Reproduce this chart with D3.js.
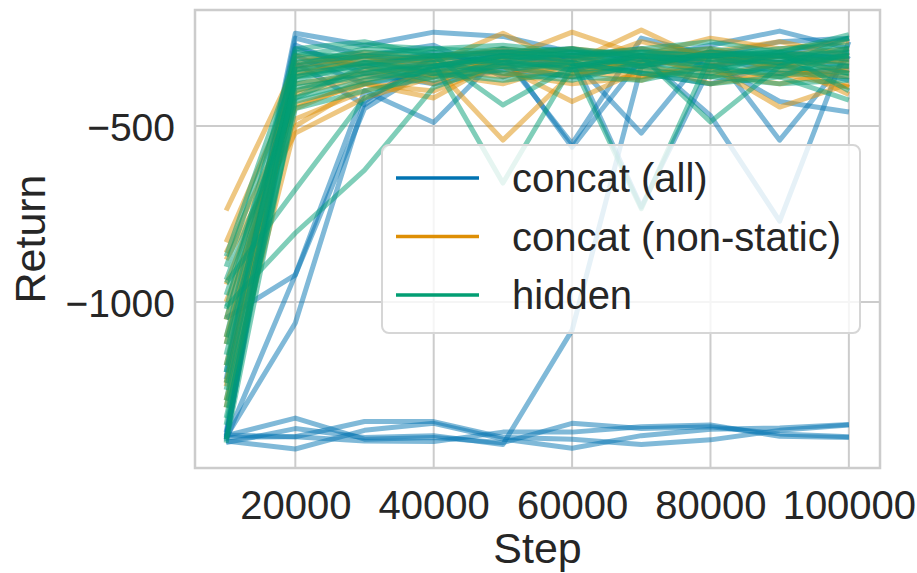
<!DOCTYPE html>
<html><head><meta charset="utf-8">
<script src="https://cdn.jsdelivr.net/npm/d3@7"></script>
<style>
html,body{margin:0;padding:0;background:#fff;}
text{font-family:"Liberation Sans",Arial,sans-serif;fill:#262626;}
</style></head>
<body>
<svg id="chart" width="917" height="573"></svg>
<script>
const steps = [10000,20000,30000,40000,50000,60000,70000,80000,90000,100000];
const seriesNames = ["concat (all)","concat (non-static)","hidden"];
const seriesColors = ["#0173b2","#de8f05","#029e73"];
const xTicks = [20000,40000,60000,80000,100000];
const yTicks = [-500,-1000];

const concatAllRuns = [
  [-1380,-1330,-1390,-1385,-1400,-1345,-1360,-1355,-1375,-1383],
  [-1385,-1383,-1340,-1340,-1385,-1390,-1405,-1392,-1365,-1350],
  [-1395,-1418,-1365,-1345,-1390,-1416,-1380,-1362,-1358,-1348],
  [-1378,-1383,-1395,-1397,-1370,-1370,-1355,-1350,-1382,-1385],
  [-1400,-1360,-1385,-1380,-1405,-1080,-330,-300,-320,-290],
  [-1384,-1060,-430,-300,-290,-560,-310,-290,-300,-330],
  [-1390,-923,-450,-330,-300,-310,-520,-280,-540,-300],
  [-1045,-923,-400,-490,-290,-280,-310,-320,-430,-460],
  [-1200,-236,-270,-233,-245,-290,-310,-270,-230,-280],
  [-1220,-250,-300,-330,-300,-550,-250,-300,-260,-250],
  [-1380,-280,-330,-290,-330,-300,-730,-330,-290,-310],
  [-1370,-300,-380,-350,-280,-340,-300,-470,-770,-260],
  [-1390,-320,-440,-300,-320,-300,-280,-330,-300,-250],
  [-1395,-270,-350,-380,-340,-360,-330,-300,-350,-340],
  [-1385,-330,-300,-270,-360,-300,-350,-380,-320,-370]
];
const concatNonStaticRuns = [
  [-740,-330,-300,-320,-236,-330,-260,-300,-330,-310],
  [-830,-380,-350,-330,-540,-350,-320,-290,-340,-360],
  [-880,-520,-420,-360,-330,-430,-340,-360,-320,-390],
  [-950,-440,-380,-420,-310,-233,-300,-280,-330,-300],
  [-1000,-480,-400,-350,-380,-320,-360,-330,-446,-380],
  [-1050,-350,-320,-300,-290,-320,-227,-320,-300,-280],
  [-1120,-300,-330,-380,-300,-280,-300,-250,-280,-260],
  [-1180,-410,-360,-320,-350,-380,-360,-330,-300,-320],
  [-1230,-360,-300,-350,-300,-330,-320,-380,-350,-390],
  [-1280,-500,-380,-400,-320,-350,-300,-350,-380,-340],
  [-1300,-320,-290,-310,-280,-300,-330,-290,-260,-300],
  [-860,-450,-370,-340,-360,-310,-280,-310,-300,-350],
  [-1100,-400,-340,-310,-330,-360,-310,-340,-360,-330],
  [-1240,-340,-310,-360,-310,-340,-370,-300,-320,-410]
];
const hiddenRuns = [
  [-1014,-804,-625,-390,-320,-340,-300,-330,-310,-330],
  [-946,-680,-420,-330,-300,-280,-330,-350,-290,-310],
  [-937,-420,-330,-300,-440,-330,-310,-330,-360,-290],
  [-980,-380,-350,-320,-662,-330,-300,-310,-320,-300],
  [-1050,-360,-320,-340,-300,-320,-735,-300,-320,-280],
  [-1100,-300,-270,-280,-290,-300,-280,-260,-290,-250],
  [-1150,-340,-300,-310,-320,-290,-310,-300,-280,-270],
  [-1200,-290,-310,-300,-280,-300,-290,-280,-300,-290],
  [-1250,-400,-350,-330,-310,-290,-300,-488,-330,-300],
  [-1300,-450,-400,-360,-340,-320,-350,-380,-360,-426],
  [-1350,-320,-300,-280,-270,-290,-290,-300,-300,-320],
  [-1390,-350,-330,-370,-310,-340,-330,-290,-310,-300],
  [-870,-310,-290,-300,-300,-310,-320,-300,-290,-400],
  [-1180,-330,-280,-290,-320,-330,-300,-310,-330,-250],
  [-1230,-370,-320,-310,-290,-300,-330,-290,-300,-350],
  [-1020,-280,-260,-300,-290,-280,-300,-320,-300,-280],
  [-1400,-420,-370,-330,-300,-310,-290,-300,-290,-240],
  [-1120,-390,-360,-350,-370,-350,-340,-360,-380,-370],
  [-1280,-360,-340,-320,-350,-370,-320,-340,-350,-360],
  [-1330,-430,-380,-340,-330,-360,-370,-330,-340,-330],
  [-900,-340,-320,-350,-330,-320,-350,-360,-330,-350]
];
const allSeries = [concatAllRuns, concatNonStaticRuns, hiddenRuns];

const svg = d3.select("#chart");
const L = 195, R = 880, T = 10, B = 468;
const x = d3.scaleLinear().domain([5500,104500]).range([L,R]);
const y = d3.scaleLinear().domain([-1472,-170]).range([B,T]);

// grid
svg.append("g").selectAll("line").data(xTicks).join("line")
  .attr("x1",d=>x(d)).attr("x2",d=>x(d)).attr("y1",T).attr("y2",B)
  .attr("stroke","#cccccc").attr("stroke-width",2);
svg.append("g").selectAll("line").data(yTicks).join("line")
  .attr("x1",L).attr("x2",R).attr("y1",d=>y(d)).attr("y2",d=>y(d))
  .attr("stroke","#cccccc").attr("stroke-width",2);

// lines
const line = d3.line().x((d,i)=>x(steps[i])).y(d=>y(d));
allSeries.forEach((runs,si)=>{
  svg.append("g").selectAll("path").data(runs).join("path")
    .attr("d",line).attr("fill","none")
    .attr("stroke",seriesColors[si]).attr("stroke-width",5)
    .attr("stroke-opacity",0.5).attr("stroke-linejoin","round").attr("stroke-linecap","butt");
});

// frame
svg.append("rect").attr("x",L).attr("y",T).attr("width",R-L).attr("height",B-T)
  .attr("fill","none").attr("stroke","#cccccc").attr("stroke-width",2.5);

// axes
const xAxis = d3.axisBottom(x).tickValues(xTicks).tickSize(0).tickPadding(0).tickFormat(d3.format("d"));
const gx = svg.append("g").attr("transform",`translate(0,${B})`).call(xAxis);
gx.select(".domain").remove();
gx.selectAll("text").attr("dy",null).attr("y",51).style("font-size","40px").style("fill","#262626")
  .style("font-family","'Liberation Sans',Arial,sans-serif");

const yAxis = d3.axisLeft(y).tickValues(yTicks).tickSize(0).tickPadding(0).tickFormat(d=>"\u2212"+Math.abs(d));
const gy = svg.append("g").attr("transform",`translate(${L},0)`).call(yAxis);
gy.select(".domain").remove();
gy.selectAll("text").attr("x",-20).attr("dy","0.36em").style("font-size","39px").style("fill","#262626")
  .style("font-family","'Liberation Sans',Arial,sans-serif");

svg.append("text").attr("x",(L+R)/2).attr("y",563).attr("text-anchor","middle")
  .style("font-size","43px").text("Step");
svg.append("text").attr("transform",`translate(45,${(T+B)/2}) rotate(-90)`).attr("text-anchor","middle")
  .style("font-size","43px").text("Return");

// legend
const lg = svg.append("g");
lg.append("rect").attr("x",382).attr("y",145).attr("width",478).attr("height",188).attr("rx",7)
  .attr("fill","#ffffff").attr("fill-opacity",0.8).attr("stroke","#d6d6d6").attr("stroke-width",2);
seriesNames.forEach((n,i)=>{
  const yy = 178 + i*58.5;
  lg.append("line").attr("x1",396).attr("x2",479).attr("y1",yy).attr("y2",yy)
    .attr("stroke",seriesColors[i]).attr("stroke-width",3.5);
  lg.append("text").attr("x",512).attr("y",yy+14).style("font-size","40px").text(n);
});
</script>
</body></html>
